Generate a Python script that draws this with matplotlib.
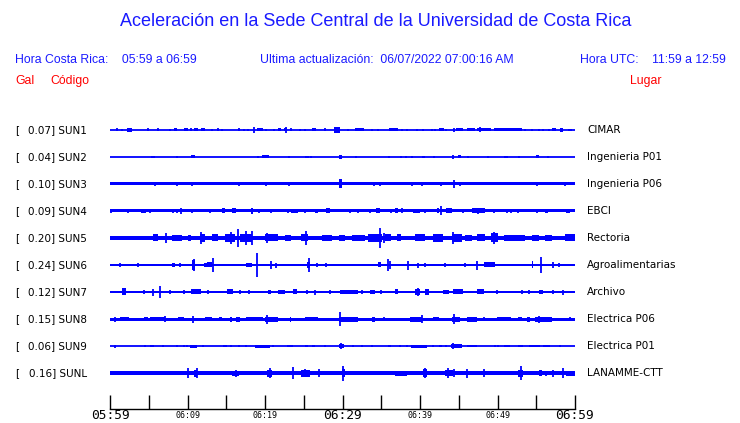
import matplotlib
matplotlib.use("Agg")
import matplotlib.pyplot as plt
from matplotlib.patches import Rectangle

# ---------------- data ----------------
codes = ["SUN1", "SUN2", "SUN3", "SUN4", "SUN5", "SUN6", "SUN7", "SUN8", "SUN9", "SUNL"]
gal_values = [0.07, 0.04, 0.10, 0.09, 0.20, 0.24, 0.12, 0.15, 0.06, 0.16]
places = ["CIMAR", "Ingenieria P01", "Ingenieria P06", "EBCI", "Rectoria",
          "Agroalimentarias", "Archivo", "Electrica P06", "Electrica P01", "LANAMME-CTT"]
# background noise half-amplitude of each trace (relative units)
base_amp = [0.8, 0.7, 1.5, 1.5, 2.4, 1.4, 1.4, 1.5, 0.8, 1.8]

tick_minutes = [0, 5, 10, 15, 20, 25, 30, 35, 40, 45, 50, 55, 60]
tick_labels = ["05:59", "", "06:09", "", "06:19", "", "06:29", "", "06:39", "", "06:49", "", "06:59"]
major_labels = ["05:59", "06:29", "06:59"]

# bursts: (start minute, end minute, half amplitude); start == end -> single spike
sun1_events = [(0.9, 0.9, 1.5), (1.6, 1.6, 1.2), (2.2, 2.8, 2.0), (4.9, 4.9, 1.5), (6.2, 6.2, 1.5),
               (7.8, 7.8, 1.2), (8.2, 8.6, 1.5), (9.5, 10.1, 1.5), (10.5, 10.5, 1.5), (10.8, 11.3, 1.5),
               (11.8, 12.2, 1.5), (13.1, 13.1, 1.0), (13.9, 13.9, 1.5), (14.5, 14.5, 1.2), (16.6, 16.6, 1.5),
               (17.3, 17.3, 1.2), (17.8, 17.8, 1.2), (18.6, 18.6, 2.7), (19.0, 19.8, 1.5), (20.1, 20.1, 1.0),
               (21.1, 21.1, 1.0), (21.7, 22.1, 1.5), (22.4, 22.9, 1.5), (22.7, 22.7, 2.7), (23.4, 23.4, 1.5),
               (24.5, 24.5, 1.0), (25.1, 25.1, 1.2), (26.0, 26.6, 1.5), (27.7, 27.7, 1.5), (28.9, 29.7, 3.0),
               (30.7, 30.7, 1.0), (31.6, 32.8, 1.5), (33.8, 33.8, 1.0), (34.6, 34.6, 0.8), (36.0, 37.2, 1.5),
               (37.7, 37.7, 1.0), (38.3, 38.3, 1.0), (39.6, 39.6, 1.0), (40.4, 40.4, 1.0), (41.5, 41.5, 1.0),
               (41.9, 41.9, 1.0), (42.4, 43.1, 1.5), (43.4, 43.4, 1.0), (44.4, 44.4, 2.0), (44.7, 45.6, 1.5),
               (46.0, 47.1, 1.5), (47.4, 49.2, 1.5), (47.7, 47.7, 2.5), (49.5, 53.1, 1.5), (53.5, 53.5, 1.0),
               (54.5, 54.5, 1.0), (55.3, 55.3, 1.0), (55.9, 55.9, 1.2), (56.6, 56.6, 1.0), (57.0, 57.6, 1.5),
               (58.1, 58.5, 2.0), (59.1, 59.6, 1.2)]
sun2_events = [(5.4, 5.4, 0.8), (5.7, 5.7, 0.8), (8.7, 8.7, 1.2), (10.4, 11.0, 1.5), (19.0, 19.2, 0.8),
               (19.6, 20.5, 1.5), (23.1, 23.1, 1.2), (25.3, 25.3, 1.0), (25.6, 25.6, 1.0), (25.9, 25.9, 1.0),
               (29.6, 29.9, 2.0), (31.7, 31.7, 0.8), (36.0, 36.0, 0.8), (37.5, 37.5, 0.8), (38.2, 38.2, 1.0),
               (38.8, 39.1, 1.2), (40.2, 40.6, 1.2), (41.8, 41.8, 0.8), (44.3, 44.3, 2.0), (44.9, 45.3, 1.5),
               (46.2, 46.2, 1.0), (48.8, 48.8, 0.6), (50.9, 51.3, 1.2), (52.8, 52.8, 1.2), (55.0, 55.4, 1.5),
               (56.5, 56.5, 1.2)]
sun3_events = [(5.8, 5.8, 2.2), (8.7, 8.7, 2.0), (10.6, 10.6, 2.2), (16.6, 16.6, 2.0), (20.1, 20.1, 2.0),
               (23.1, 23.1, 2.0), (29.6, 29.9, 4.5), (34.0, 34.0, 2.0), (34.8, 34.8, 2.0), (39.0, 39.0, 2.2),
               (40.2, 40.2, 2.2), (42.7, 42.7, 2.0), (44.4, 44.4, 4.0), (45.1, 45.1, 2.2), (55.1, 55.1, 2.2),
               (58.7, 58.7, 2.0)]
sun4_events = [(0.1, 0.1, 2.2), (2.3, 2.3, 2.2), (4.0, 4.6, 2.2), (5.2, 5.2, 2.2), (8.1, 8.1, 2.2),
               (8.7, 8.7, 2.2), (9.2, 9.2, 3.0), (10.6, 10.6, 2.2), (12.9, 12.9, 2.2), (14.4, 14.9, 2.5),
               (15.7, 16.3, 2.5), (18.2, 18.4, 3.2), (19.2, 19.2, 2.2), (20.8, 20.8, 2.2), (23.0, 23.0, 2.2),
               (23.4, 24.2, 2.2), (25.1, 25.1, 2.2), (26.5, 26.9, 2.2), (27.9, 28.4, 2.5), (31.0, 31.0, 2.0),
               (32.0, 32.0, 2.2), (33.5, 33.5, 2.2), (34.3, 34.8, 2.5), (36.3, 36.3, 2.2), (36.8, 37.2, 2.5),
               (37.7, 37.7, 2.5), (39.1, 40.0, 2.2), (40.6, 40.6, 2.2), (42.2, 42.4, 2.5), (42.7, 42.7, 4.5),
               (43.4, 44.1, 2.5), (45.6, 45.6, 2.2), (46.7, 48.4, 2.5), (47.5, 47.5, 3.0), (49.5, 49.5, 2.2),
               (51.2, 51.2, 2.2), (51.8, 51.8, 2.2), (52.6, 52.6, 2.2), (55.1, 55.1, 2.2), (56.1, 56.5, 2.2),
               (58.9, 59.4, 2.2)]
sun5_events = [(5.6, 6.2, 3.5), (7.2, 7.2, 5.0), (8.0, 9.3, 3.2), (10.1, 10.5, 3.2), (11.6, 12.3, 4.0),
               (11.7, 11.7, 6.0), (13.1, 14.0, 3.5), (14.8, 16.1, 3.8), (15.6, 15.6, 6.0), (16.5, 16.5, 9.0),
               (16.8, 18.3, 4.0), (17.6, 17.6, 7.0), (18.3, 18.3, 7.0), (20.0, 21.7, 3.5), (20.2, 20.2, 5.0),
               (22.6, 23.4, 3.2), (24.7, 25.6, 3.5), (25.3, 25.3, 7.0), (27.3, 28.6, 3.2), (29.5, 30.3, 2.9),
               (31.2, 32.9, 3.2), (33.3, 35.1, 3.8), (34.8, 34.8, 10.0), (35.3, 35.3, 5.0), (35.5, 36.3, 3.5),
               (37.0, 37.6, 3.5), (39.4, 40.6, 3.5), (41.7, 43.0, 4.2), (44.1, 45.4, 3.8), (44.3, 44.3, 6.0),
               (45.8, 46.7, 3.2), (47.3, 48.4, 3.5), (49.2, 50.1, 4.5), (49.5, 49.5, 6.0), (50.9, 53.5, 3.0),
               (54.4, 55.3, 3.2), (56.1, 57.0, 3.2), (58.7, 60.0, 3.5)]
sun6_events = [(1.3, 1.3, 2.0), (3.6, 3.6, 1.7), (8.0, 8.4, 2.0), (9.0, 9.0, 1.8), (10.6, 11.0, 5.0),
               (10.8, 10.8, 6.0), (12.1, 12.5, 2.2), (12.5, 13.1, 2.5), (13.3, 13.3, 7.0), (17.6, 18.3, 2.0),
               (19.0, 19.0, 11.5), (20.8, 20.8, 4.0), (21.4, 21.4, 2.5), (25.4, 25.8, 3.0), (25.7, 25.7, 7.0),
               (26.7, 26.7, 2.0), (27.9, 27.9, 2.0), (34.6, 35.0, 2.5), (35.9, 35.9, 6.0), (36.1, 36.1, 4.0),
               (38.4, 38.4, 4.5), (39.8, 39.8, 2.5), (40.6, 40.6, 2.0), (43.2, 43.2, 2.0), (45.8, 45.8, 2.0),
               (47.3, 47.3, 4.5), (48.2, 49.7, 2.5), (54.4, 54.6, 3.5), (55.6, 55.6, 8.0), (57.2, 57.2, 3.0),
               (57.9, 57.9, 2.0)]
sun7_events = [(1.5, 2.0, 3.5), (4.4, 4.4, 2.0), (5.6, 5.6, 3.5), (6.5, 6.5, 6.0), (7.7, 7.7, 2.0),
               (9.5, 9.5, 1.8), (10.5, 11.8, 2.5), (12.7, 12.7, 2.0), (15.1, 15.9, 2.5), (16.8, 16.8, 2.0),
               (17.9, 17.9, 2.0), (20.4, 20.8, 2.2), (21.7, 22.6, 2.2), (23.6, 24.1, 2.5), (25.4, 25.4, 2.0),
               (26.5, 26.5, 2.5), (28.4, 28.4, 2.0), (29.7, 32.0, 2.0), (32.5, 32.5, 2.0), (33.6, 34.2, 2.3),
               (35.0, 35.0, 2.0), (36.8, 37.2, 2.5), (39.4, 40.0, 3.0), (39.8, 39.8, 4.0), (40.6, 41.1, 3.0),
               (43.0, 43.7, 2.0), (44.3, 45.6, 2.5), (47.3, 48.2, 2.5), (49.9, 49.9, 2.0), (53.1, 53.1, 2.0),
               (54.0, 54.0, 2.0), (55.3, 55.9, 2.3), (57.2, 57.2, 2.0), (58.5, 58.5, 2.5)]
sun8_events = [(0.6, 0.6, 2.5), (1.3, 2.4, 2.0), (4.4, 4.9, 2.0), (5.2, 7.1, 2.2), (7.1, 7.1, 3.0),
               (8.8, 9.5, 2.0), (10.7, 10.7, 3.5), (12.3, 13.1, 2.0), (14.0, 14.4, 2.0), (15.5, 15.7, 2.5),
               (16.3, 16.8, 2.5), (17.6, 19.8, 2.0), (20.2, 20.2, 4.5), (20.0, 21.7, 2.5), (23.2, 23.4, 2.5),
               (25.2, 26.9, 2.2), (29.7, 29.7, 7.0), (29.5, 32.0, 2.5), (33.8, 34.2, 2.5), (35.4, 35.4, 2.3),
               (38.7, 40.2, 2.5), (40.3, 40.3, 4.0), (41.7, 42.4, 2.3), (44.1, 45.2, 2.5), (44.4, 44.4, 5.0),
               (46.0, 47.3, 2.5), (48.2, 48.2, 2.0), (49.9, 51.8, 2.3), (52.7, 53.1, 2.3), (53.8, 54.2, 2.5),
               (54.8, 57.0, 2.5), (55.3, 55.3, 3.5), (59.4, 59.4, 2.0)]
sun9_events = [(0.6, 0.6, 1.5), (4.5, 4.5, 1.0), (5.2, 5.7, 1.3), (6.8, 6.8, 1.0), (8.7, 8.7, 1.2),
               (9.5, 9.5, 1.2), (9.9, 9.9, 1.2), (10.3, 11.2, 1.5), (12.0, 12.0, 1.0), (14.6, 15.1, 1.2),
               (15.6, 15.6, 1.0), (16.6, 16.6, 1.2), (17.5, 17.5, 1.0), (18.7, 20.6, 1.5), (21.0, 21.0, 1.0),
               (22.9, 23.6, 1.3), (25.1, 25.6, 1.3), (26.0, 26.5, 1.3), (27.7, 27.7, 1.3), (29.5, 30.2, 1.7),
               (29.8, 29.8, 3.0), (31.4, 31.4, 1.0), (32.5, 32.5, 1.0), (33.8, 33.8, 1.0), (35.9, 36.3, 1.2),
               (37.4, 37.4, 1.2), (38.3, 38.3, 1.2), (38.8, 40.9, 1.5), (41.7, 41.7, 1.0), (42.4, 42.8, 1.3),
               (43.4, 43.4, 1.0), (44.0, 45.4, 1.8), (44.3, 44.3, 3.0), (46.0, 47.3, 1.3), (49.7, 49.7, 1.0),
               (50.1, 50.1, 1.0), (50.9, 51.6, 1.3), (52.7, 53.3, 1.3), (54.0, 55.5, 1.3), (55.9, 56.8, 1.3),
               (58.1, 58.1, 1.0)]
sunl_events = [(0.2, 3.9, 1.6), (5.8, 5.8, 2.0), (6.4, 7.3, 2.0), (8.0, 9.9, 2.0), (10.0, 10.0, 5.0),
               (10.8, 11.2, 3.5), (11.2, 11.2, 5.0), (11.4, 13.6, 2.0), (14.0, 14.9, 2.0), (15.7, 16.6, 2.5),
               (16.2, 16.2, 3.5), (17.4, 20.0, 2.0), (20.2, 20.9, 3.5), (20.6, 20.6, 5.0), (21.3, 22.6, 2.0),
               (23.6, 23.6, 6.0), (24.7, 25.8, 3.5), (25.1, 25.1, 4.0), (26.0, 26.9, 2.0), (27.0, 27.0, 4.0),
               (29.9, 30.3, 4.0), (30.1, 30.1, 7.5), (30.3, 32.5, 2.0), (33.8, 36.0, 2.0), (36.8, 38.3, 2.5),
               (40.4, 40.9, 4.0), (40.6, 40.6, 5.0), (43.2, 44.3, 3.0), (43.6, 43.6, 5.0), (44.4, 44.4, 4.0),
               (46.0, 46.0, 4.5), (48.2, 48.2, 4.0), (50.5, 50.5, 2.0), (51.4, 51.4, 2.0), (52.7, 53.3, 3.5),
               (53.0, 53.0, 7.0), (55.3, 55.7, 3.0), (56.3, 56.3, 2.5), (57.1, 57.1, 3.5), (58.5, 58.5, 5.0),
               (58.9, 60.0, 2.5)]
all_events = [sun1_events, sun2_events, sun3_events, sun4_events, sun5_events,
              sun6_events, sun7_events, sun8_events, sun9_events, sunl_events]

# ---------------- figure ----------------
W, H = 740, 423
fig = plt.figure(figsize=(W / 100, H / 100), dpi=100)
fig.patch.set_facecolor("white")

def fx(px):
    return px / W

def fy(py):
    return 1 - py / H

ax = fig.add_axes([fx(110), 1 - 409 / H, 465 / W, 293 / H])
ax.set_xlim(0, 60)
ax.set_ylim(0, 293)
trace_color = "#0000ff"

for i, (events, b) in enumerate(zip(all_events, base_amp)):
    yc = 279 - 27 * i
    if b < 1.0:
        ax.plot([0, 60], [yc, yc], color=trace_color, lw=1.3, solid_capstyle="butt")
    else:
        ax.add_patch(Rectangle((0, yc - b), 60, 2 * b, color=trace_color, lw=0))
    for t0, t1, a in events:
        if t1 > t0:
            ax.add_patch(Rectangle((t0, yc - a), t1 - t0, 2 * a, color=trace_color, lw=0))
        else:
            ax.vlines(t0, yc - a, yc + a, color=trace_color, lw=1.3)

for s in ["top", "left", "right"]:
    ax.spines[s].set_visible(False)
ax.spines["bottom"].set_linewidth(1.0)
ax.set_yticks([])
ax.set_xticks(tick_minutes)
ax.set_xticklabels(tick_labels)
ax.tick_params(axis="x", direction="in", length=10, width=1.0, pad=4.5)
for lab in ax.get_xticklabels():
    if lab.get_text() in major_labels:
        lab.set_fontsize(9.3)
    else:
        lab.set_fontsize(6.0)
    lab.set_fontfamily("DejaVu Sans Mono")
    lab.set_verticalalignment("center")

# ---------------- texts ----------------
sans = "Liberation Sans"
blue = "#1a1aff"
fig.text(fx(376), fy(22), "Aceleración en la Sede Central de la Universidad de Costa Rica",
         color=blue, fontsize=13.0, family=sans, ha="center", va="center")
fig.text(fx(15), fy(60), "Hora Costa Rica:    05:59 a 06:59", color=blue, fontsize=8.8,
         family=sans, ha="left", va="center")
fig.text(fx(260), fy(60), "Ultima actualización:  06/07/2022 07:00:16 AM", color=blue,
         fontsize=8.8, family=sans, ha="left", va="center")
fig.text(fx(580), fy(60), "Hora UTC:    11:59 a 12:59", color=blue, fontsize=8.8,
         family=sans, ha="left", va="center")
fig.text(fx(15), fy(81), "Gal", color="red", fontsize=8.8, family=sans, ha="left", va="center")
fig.text(fx(50), fy(81), "Código", color="red", fontsize=8.8, family=sans, ha="left", va="center")
fig.text(fx(630), fy(81), "Lugar", color="red", fontsize=8.8, family=sans, ha="left", va="center")

for i, (c, g, p) in enumerate(zip(codes, gal_values, places)):
    y = 130 + 27 * i
    fig.text(fx(15), fy(y), "[", fontsize=7.5, family="DejaVu Sans", ha="left", va="center")
    fig.text(fx(87), fy(y), f"{g:.2f}] {c}", fontsize=7.5, family="DejaVu Sans",
             ha="right", va="center")
    fig.text(fx(587), fy(y), p, fontsize=7.5, family="DejaVu Sans", ha="left", va="center")

fig.savefig("out.png", dpi=100)
